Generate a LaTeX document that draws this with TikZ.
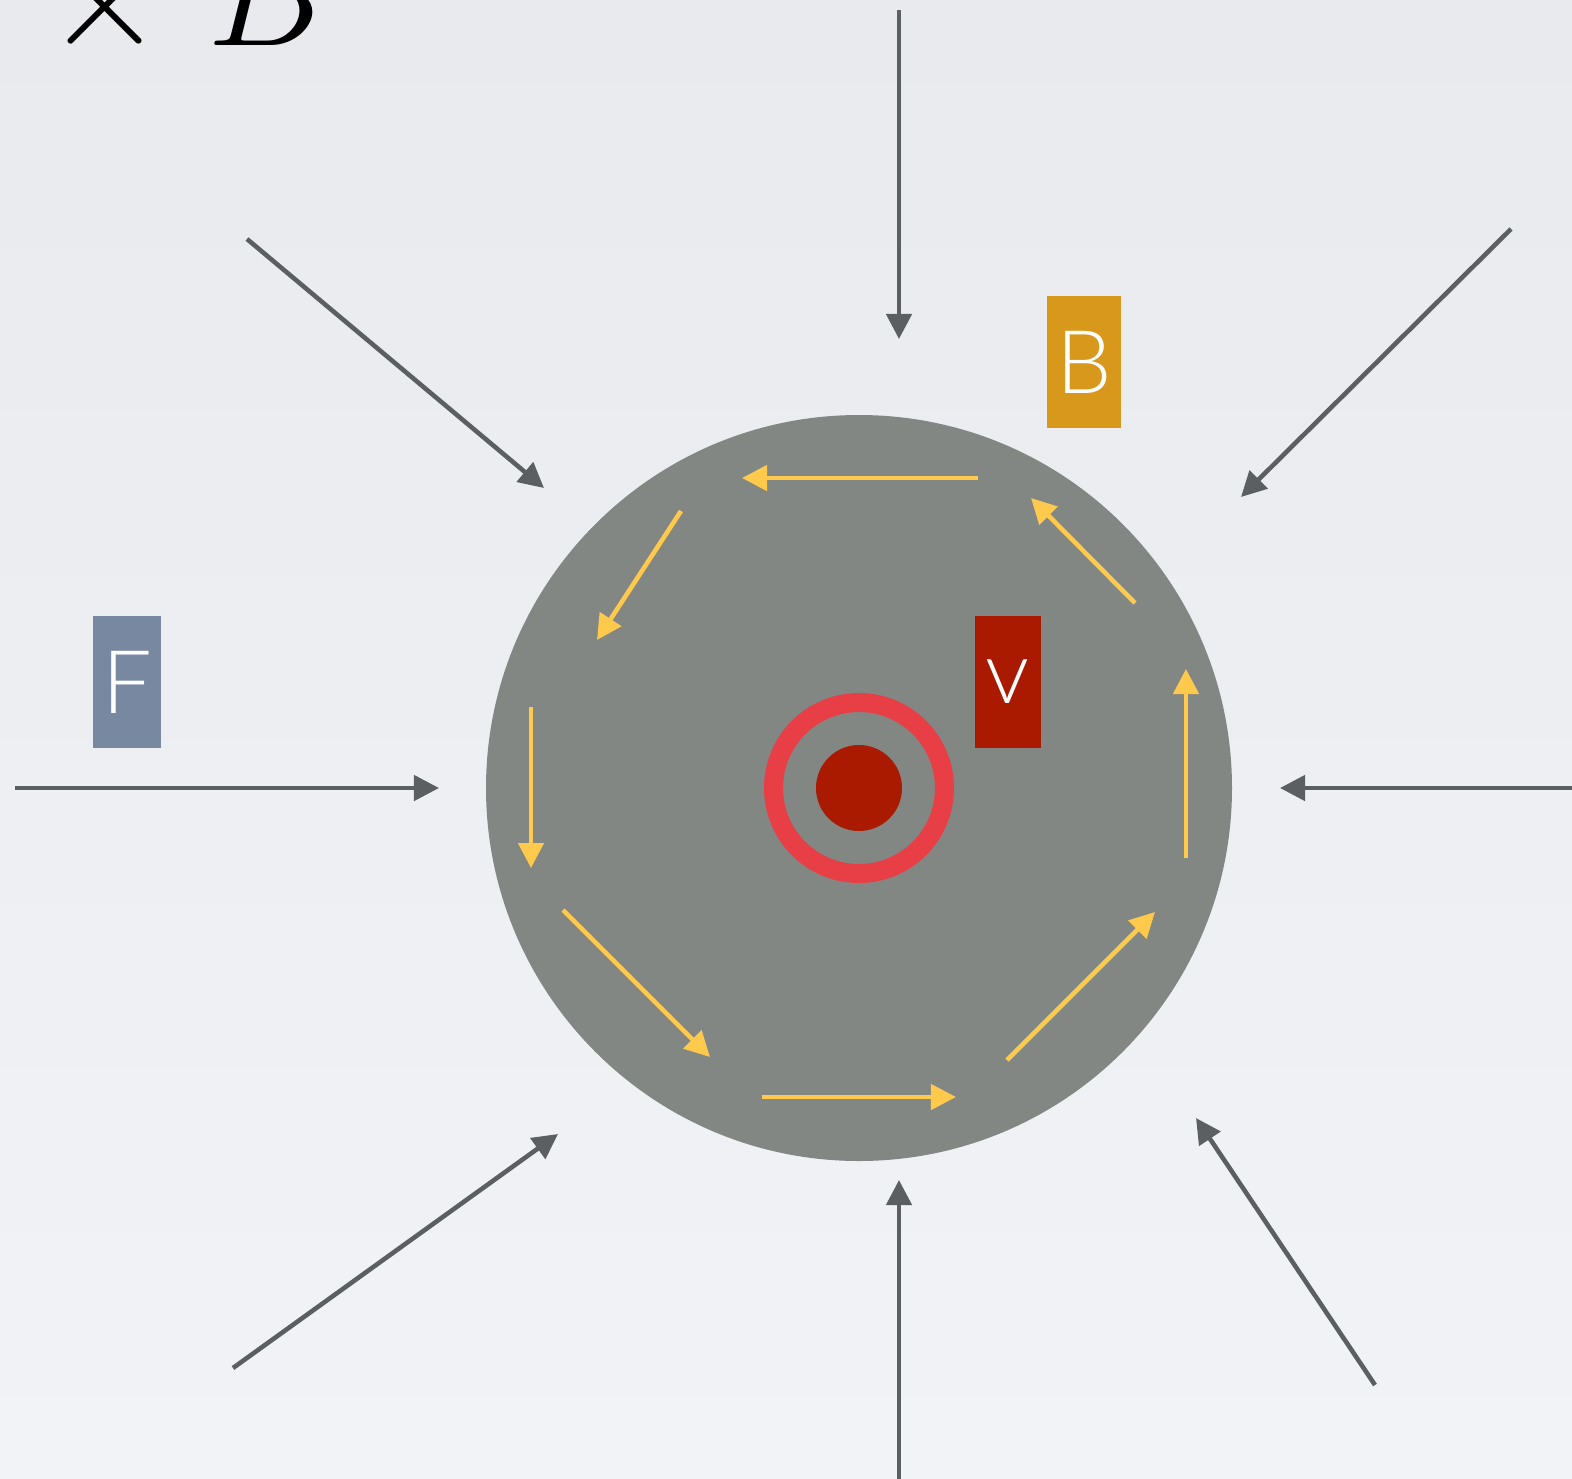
\documentclass[tikz,border=0pt]{standalone}
\usepackage{fontspec}
\newfontfamily\lblfont{Lato Light}
\usetikzlibrary{arrows.meta}
\definecolor{bgtop}{HTML}{E8EAED}
\definecolor{bgbot}{HTML}{F2F3F7}
\definecolor{disc}{HTML}{828784}
\definecolor{field}{HTML}{5B5F61}
\definecolor{flow}{HTML}{FFC94C}
\definecolor{ringred}{HTML}{E83E45}
\definecolor{dotred}{HTML}{A91A00}
\definecolor{bgold}{HTML}{D8981C}
\definecolor{fblue}{HTML}{7888A1}
\tikzset{
  tag/.style={rectangle, inner sep=0pt, minimum height=1.31cm, text=white,
              font=\lblfont\fontsize{25}{28}\selectfont},
  inarr/.style={-{Triangle[length=2.5mm, width=2.5mm]}, line width=1.3pt, color=field},
  swirl/.style={-{Triangle[length=2.5mm, width=2.5mm]}, line width=1.3pt, color=flow}}
\begin{document}
\begin{tikzpicture}[x=0.01cm, y=-0.01cm]
  \useasboundingbox (0,0) rectangle (1572,1478);
  \clip (0,0) rectangle (1572,1478);
  \shade[top color=bgtop, bottom color=bgbot] (0,0) rectangle (1572,1478);
  % the cut-off formula at the top
  \node[anchor=base west, inner sep=0pt, font=\fontsize{37}{40}\selectfont] (formula)
    at (45,45) {\scalebox{1.75}{$\times\; B$}};
  % disc, ring and wire
  \fill[disc] (859,788) circle (373);
  \draw[ringred, line width=0.19cm] (859,788) circle (85.5);
  \fill[dotred] (859,788) circle (43);
  % labels
  \node[tag, fill=bgold, minimum width=0.74cm] (blbl) at (1084,362) {B};
  \node[tag, fill=fblue, minimum width=0.67cm] (flbl) at (127,682) {F};
  \node[tag, fill=dotred, minimum width=0.65cm] (vlbl) at (1008,682) {v};
  % field arrows, pointing in
  \coordinate (n0) at (899,10);    \coordinate (n1) at (899,339);
  \coordinate (nw0) at (247,239);  \coordinate (nw1) at (544,488);
  \coordinate (ne0) at (1511,229); \coordinate (ne1) at (1241,497);
  \coordinate (w0) at (15,788);    \coordinate (w1) at (439,788);
  \coordinate (e0) at (1580,788);  \coordinate (e1) at (1280,788);
  \coordinate (sw0) at (233,1368); \coordinate (sw1) at (558,1134);
  \coordinate (s0) at (899,1490);  \coordinate (s1) at (899,1180);
  \coordinate (se0) at (1375,1385); \coordinate (se1) at (1196,1118);
  \draw[inarr] (n0) -- (n1);
  \draw[inarr] (nw0) -- (nw1);
  \draw[inarr] (ne0) -- (ne1);
  \draw[inarr] (w0) -- (w1);
  \draw[inarr] (e0) -- (e1);
  \draw[inarr] (sw0) -- (sw1);
  \draw[inarr] (s0) -- (s1);
  \draw[inarr] (se0) -- (se1);
  % circulation on the disc
  \coordinate (c1a) at (978,478);  \coordinate (c1b) at (742,478);
  \coordinate (c2a) at (681,511);  \coordinate (c2b) at (597,640);
  \coordinate (c3a) at (531,707);  \coordinate (c3b) at (531,868);
  \coordinate (c4a) at (563,910);  \coordinate (c4b) at (710,1057);
  \coordinate (c5a) at (762,1097); \coordinate (c5b) at (956,1097);
  \coordinate (c6a) at (1007,1060); \coordinate (c6b) at (1155,912);
  \coordinate (c7a) at (1186,858); \coordinate (c7b) at (1186,669);
  \coordinate (c8a) at (1135,603); \coordinate (c8b) at (1031,498);
  \draw[swirl] (c1a) -- (c1b);
  \draw[swirl] (c2a) -- (c2b);
  \draw[swirl] (c3a) -- (c3b);
  \draw[swirl] (c4a) -- (c4b);
  \draw[swirl] (c5a) -- (c5b);
  \draw[swirl] (c6a) -- (c6b);
  \draw[swirl] (c7a) -- (c7b);
  \draw[swirl] (c8a) -- (c8b);
\end{tikzpicture}
\end{document}
